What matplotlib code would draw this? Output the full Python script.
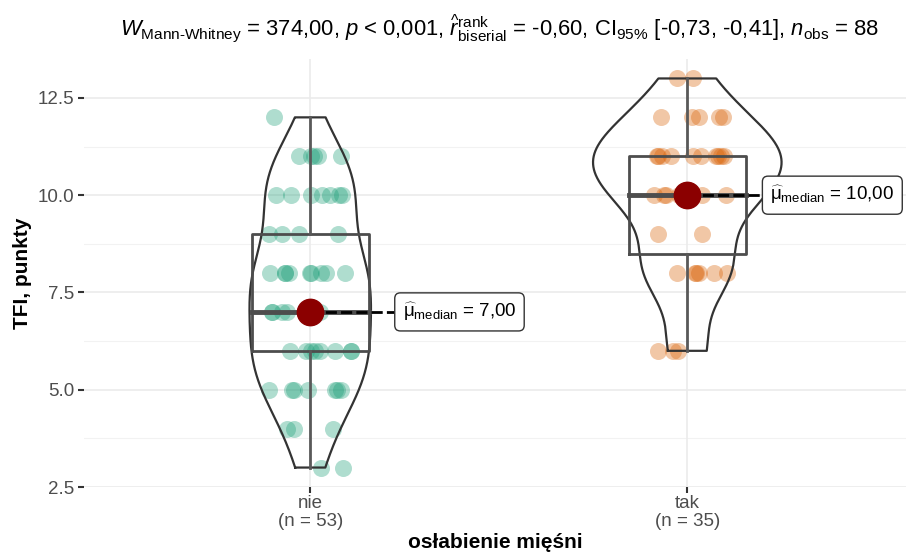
import numpy as np
import matplotlib
matplotlib.use("Agg")
import matplotlib.pyplot as plt

plt.rcParams['font.family'] = ['Liberation Sans', 'DejaVu Sans']
plt.rcParams['mathtext.fontset'] = 'custom'
plt.rcParams['mathtext.rm'] = 'Liberation Sans'
plt.rcParams['mathtext.it'] = 'Liberation Sans:italic'
plt.rcParams['mathtext.bf'] = 'Liberation Sans:bold'
plt.rcParams['mathtext.sf'] = 'Liberation Sans'

# ---- data ----
categories = ["nie", "tak"]
counts_n = [53, 35]
nie_values = [3]*2 + [4]*3 + [5]*7 + [6]*8 + [7]*7 + [8]*9 + [9]*4 + [10]*7 + [11]*5 + [12]*1
tak_values = [6]*3 + [8]*6 + [9]*2 + [10]*7 + [11]*10 + [12]*5 + [13]*2
group_values = [nie_values, tak_values]
colors = ["#1B9E77", "#D95F02"]
yticks = [2.5, 5.0, 7.5, 10.0, 12.5]
title = (r"$W_{\mathrm{Mann‐Whitney}}$ = 374,00, $p$ < 0,001, "
         r"$\widehat{r}_{\mathrm{biserial}}^{\mathrm{rank}}$ = -0,60, "
         r"CI$_{95\%}$ [-0,73, -0,41], $n_{\mathrm{obs}}$ = 88")
xlabel = "osłabienie mięśni"
ylabel = "TFI, punkty"

def nrd0(x):
    x = np.asarray(x, float)
    sd = x.std(ddof=1)
    iqr = np.subtract(*np.percentile(x, [75, 25]))
    lo = min(sd, iqr / 1.34)
    if lo == 0:
        lo = sd
    return 0.9 * lo * len(x) ** -0.2

def kde(x, grid):
    x = np.asarray(x, float)
    bw = nrd0(x)
    z = (grid[:, None] - x[None, :]) / bw
    return np.exp(-0.5 * z**2).sum(axis=1) / (len(x) * bw * np.sqrt(2 * np.pi))

fig = plt.figure(figsize=(9.06, 5.59), dpi=100)
ax = fig.add_axes([84/906, 1 - 487/559, 1 - 84/906, (487 - 59)/559])

ax.set_ylim(2.5, 13.5)
ax.set_xlim(0.4, 2.58)
for s in ax.spines.values():
    s.set_visible(False)

# grid
for y in yticks:
    ax.axhline(y, color="#EBEBEB", lw=1.2, zorder=0)
for y in np.arange(3.75, 13.5, 2.5):
    ax.axhline(y, color="#F2F2F2", lw=0.8, zorder=0)
for xpos in [1, 2]:
    ax.axvline(xpos, color="#EBEBEB", lw=1.2, zorder=0)

# violins
grids, dens = [], []
for vals in group_values:
    g = np.linspace(min(vals), max(vals), 512)
    grids.append(g)
    dens.append(kde(vals, g))
dmax = max(d.max() for d in dens)

rng = np.random.default_rng(7)
for i, vals in enumerate(group_values):
    xc = i + 1
    vals = np.asarray(vals, float)
    # jittered points
    jit = rng.uniform(-0.11, 0.11, len(vals))
    ax.scatter(xc + jit, vals, s=150, color=colors[i], alpha=0.35, lw=0, zorder=2)
    # violin
    hw = 0.25 * dens[i] / dmax
    xs = np.concatenate([xc - hw, (xc + hw)[::-1], [xc - hw[0]]])
    ys = np.concatenate([grids[i], grids[i][::-1], [grids[i][0]]])
    ax.plot(xs, ys, color="#333333", lw=1.6, zorder=3)
    # boxplot
    q1, med, q3 = np.percentile(vals, [25, 50, 75])
    bw = 0.155
    ax.plot([xc - bw, xc + bw, xc + bw, xc - bw, xc - bw], [q1, q1, q3, q3, q1],
            color="#4D4D4D", lw=2, zorder=3)
    ax.plot([xc - bw, xc + bw], [med, med], color="#4D4D4D", lw=3.5, zorder=3)
    ax.plot([xc, xc], [vals.min(), q1], color="#595959", lw=2, zorder=3)
    ax.plot([xc, xc], [q3, vals.max()], color="#595959", lw=2, zorder=3)
    # median point and label
    lx = xc + (0.245 if i == 0 else 0.22)
    ax.plot([xc, lx], [med, med], color="black", lw=2, ls=(0, (4, 1.5)), zorder=4)
    ax.plot([xc], [med], "o", color="#8B0000", ms=19, zorder=5)
    med_txt = ("%.2f" % med).replace(".", ",")
    ax.text(lx, med, r"$\widehat{\mathrm{μ}}_{\mathrm{median}}$ = " + med_txt,
            fontsize=13.5, va="center", ha="left", zorder=6,
            bbox=dict(boxstyle="round,pad=0.42,rounding_size=0.3", fc="white",
                      ec="#333333", lw=1))

ax.set_yticks(yticks)
ax.set_yticklabels([f"{v:.1f}" for v in yticks])
ax.set_xticks([1, 2])
ax.set_xticklabels([f"{c}\n(n = {n})" for c, n in zip(categories, counts_n)],
                   linespacing=1.05)
ax.tick_params(axis="both", colors="#333333", length=4, width=1.5,
               labelcolor="#4D4D4D", labelsize=13.5)
ax.tick_params(axis="x", pad=2)
ax.tick_params(axis="y", pad=3)

ax.set_xlabel(xlabel, fontsize=15, fontweight="bold", labelpad=2)
ax.set_ylabel(ylabel, fontsize=15, fontweight="bold", labelpad=4)
fig.text(500/906, 1 - 28/559, title, fontsize=15.8, ha="center", va="center")

fig.savefig("out.png", dpi=100)
